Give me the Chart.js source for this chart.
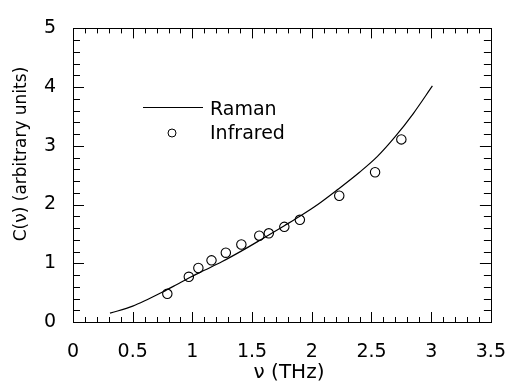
<!DOCTYPE html>
<html>
<head>
<meta charset="utf-8">
<script src="https://cdn.jsdelivr.net/npm/chart.js@4/dist/chart.umd.min.js"></script>
<style>
html,body{margin:0;padding:0;background:#fff;}
#wrap{width:525px;height:385px;position:relative;}
</style>
</head>
<body>
<div id="wrap"><canvas id="c" width="525" height="385"></canvas></div>
<script>
// Raman curve (frequency THz, C)
const ramanX = [0.31, 0.50, 0.62, 0.75, 0.87, 0.97, 1.10, 1.25, 1.42, 1.58, 1.77, 1.90, 2.05, 2.22, 2.40, 2.55, 2.70, 2.85, 3.01];
const ramanY = [0.15, 0.27, 0.38, 0.51, 0.64, 0.75, 0.88, 1.03, 1.22, 1.41, 1.64, 1.80, 2.00, 2.26, 2.55, 2.82, 3.16, 3.55, 4.02];
// Infrared points
const irX = [0.79, 0.97, 1.05, 1.16, 1.28, 1.41, 1.56, 1.64, 1.77, 1.90, 2.23, 2.53, 2.75];
const irY = [0.48, 0.77, 0.92, 1.05, 1.18, 1.32, 1.47, 1.51, 1.62, 1.74, 2.15, 2.55, 3.11];
// Tick labels
const xTicks = [0, 0.5, 1, 1.5, 2, 2.5, 3, 3.5];
const xTickLabels = ['0', '0.5', '1', '1.5', '2', '2.5', '3', '3.5'];
const yTicks = [0, 1, 2, 3, 4, 5];
const yTickLabels = ['0', '1', '2', '3', '4', '5'];
const xMinorStep = 0.1, yMinorStep = 0.2;
const xTitle = 'ν (THz)';
const yTitle = 'C(ν) (arbitrary units)';
const seriesNames = ['Raman', 'Infrared'];

const FONT = '"DejaVu Sans", sans-serif';

const framePlugin = {
  id: 'frame',
  afterDatasetsDraw(chart) {
    const ctx = chart.ctx, a = chart.chartArea;
    const xs = chart.scales.x, ys = chart.scales.y;
    ctx.save();
    ctx.strokeStyle = '#000';
    ctx.lineWidth = 1;
    ctx.strokeRect(Math.round(a.left) + 0.5, Math.round(a.top) + 0.5, Math.round(a.right - a.left), Math.round(a.bottom - a.top));
    ctx.beginPath();
    const nx = Math.round((xs.max - xs.min) / xMinorStep);
    for (let i = 0; i <= nx; i++) {
      const v = xs.min + i * xMinorStep;
      const major = i % 5 === 0;
      const len = major ? 10 : 5;
      const px = Math.round(xs.getPixelForValue(v)) + 0.5;
      ctx.moveTo(px, a.bottom); ctx.lineTo(px, a.bottom - len);
      ctx.moveTo(px, a.top); ctx.lineTo(px, a.top + len);
    }
    const ny = Math.round((ys.max - ys.min) / yMinorStep);
    for (let i = 0; i <= ny; i++) {
      const v = ys.min + i * yMinorStep;
      const major = i % 5 === 0;
      const len = major ? 11 : 7;
      const py = Math.round(ys.getPixelForValue(v)) + 0.5;
      ctx.moveTo(a.left, py); ctx.lineTo(a.left + len, py);
      ctx.moveTo(a.right, py); ctx.lineTo(a.right - len, py);
    }
    ctx.stroke();

    // axis titles
    ctx.fillStyle = '#000';
    ctx.textAlign = 'center';
    ctx.textBaseline = 'middle';
    ctx.font = '20px ' + FONT;
    ctx.fillText(xTitle, 289, 373);
    ctx.save();
    ctx.font = '17px ' + FONT;
    ctx.translate(22, 154);
    ctx.rotate(-Math.PI / 2);
    ctx.fillText(yTitle, 0, 0);
    ctx.restore();

    // legend
    ctx.font = '19px ' + FONT;
    ctx.textAlign = 'left';
    ctx.beginPath();
    ctx.moveTo(143, 107.5); ctx.lineTo(203, 107.5);
    ctx.stroke();
    ctx.fillText(seriesNames[0], 210, 110);
    ctx.beginPath();
    ctx.arc(172, 133, 4, 0, Math.PI * 2);
    ctx.fillStyle = '#fff'; ctx.fill();
    ctx.stroke();
    ctx.fillStyle = '#000';
    ctx.fillText(seriesNames[1], 210, 134);
    ctx.restore();
  }
};

new Chart(document.getElementById('c'), {
  type: 'scatter',
  data: {
    datasets: [
      {
        label: seriesNames[0],
        data: ramanX.map((x, i) => ({x, y: ramanY[i]})),
        showLine: true,
        borderColor: '#000',
        borderWidth: 1.2,
        pointRadius: 0,
        cubicInterpolationMode: 'monotone',
        fill: false,
        order: 2
      },
      {
        label: seriesNames[1],
        data: irX.map((x, i) => ({x, y: irY[i]})),
        showLine: false,
        pointStyle: 'circle',
        pointRadius: 4.7,
        pointBorderWidth: 1.1,
        pointBorderColor: '#000',
        pointBackgroundColor: 'rgba(255,255,255,0)',
        order: 1
      }
    ]
  },
  options: {
    responsive: false,
    animation: false,
    devicePixelRatio: 1,
    layout: { padding: { left: 0, right: 15, top: 19, bottom: 0 } },
    plugins: { legend: { display: false }, tooltip: { enabled: false }, title: { display: false } },
    scales: {
      x: {
        type: 'linear', min: 0, max: 3.5,
        afterBuildTicks: s => { s.ticks = xTicks.map(v => ({value: v})); },
        afterFit: s => { s.height = 63; },
        grid: { display: false, drawTicks: false },
        border: { display: false },
        ticks: {
          color: '#000', font: { family: FONT, size: 19 }, padding: 19, maxRotation: 0,
          callback: (v) => { const i = xTicks.indexOf(v); return i >= 0 ? xTickLabels[i] : ''; }
        }
      },
      y: {
        type: 'linear', min: 0, max: 5,
        afterBuildTicks: s => { s.ticks = yTicks.map(v => ({value: v})); },
        afterFit: s => { s.width = 73; },
        grid: { display: false, drawTicks: false },
        border: { display: false },
        ticks: {
          color: '#000', font: { family: FONT, size: 19 }, padding: 17,
          callback: (v) => { const i = yTicks.indexOf(v); return i >= 0 ? yTickLabels[i] : ''; }
        }
      }
    }
  },
  plugins: [framePlugin]
});
</script>
</body>
</html>
